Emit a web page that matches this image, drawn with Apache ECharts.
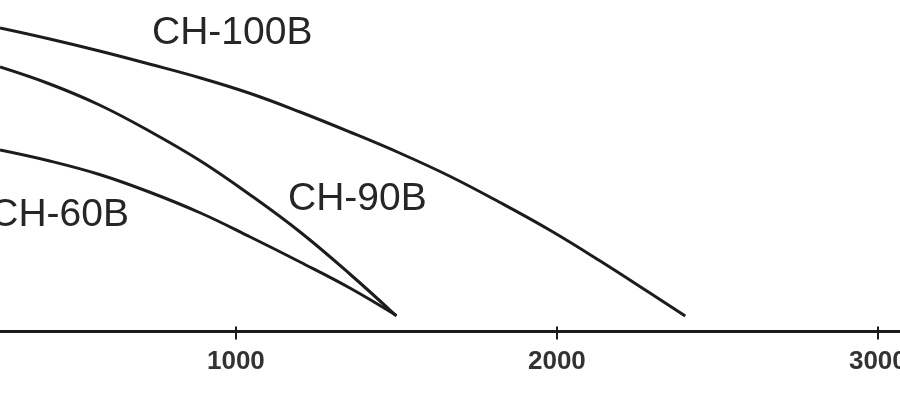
<!DOCTYPE html>
<html>
<head>
<meta charset="utf-8">
<script src="https://cdn.jsdelivr.net/npm/echarts@6/dist/echarts.min.js"></script>
<style>
html,body{margin:0;padding:0;background:#fff;}
#chart{width:900px;height:394px;}
</style>
</head>
<body>
<div id="chart"></div>
<script>
// Flow values (x) and head values (y)
var tickValues = [1000, 2000, 3000];
var seriesNames = ['CH-100B', 'CH-90B', 'CH-60B'];

var ch100bX = [265, 420, 575, 730, 890, 1045, 1200, 1355, 1510, 1665, 1820, 1980, 2135, 2290, 2400];
var ch100bY = [30.35, 29.25, 28.05, 26.75, 25.35, 23.8, 21.95, 19.95, 17.85, 15.55, 12.95, 10.1, 7.05, 3.85, 1.55];

var ch90bX = [265, 420, 575, 730, 890, 1045, 1200, 1355, 1500];
var ch90bY = [26.45, 24.75, 22.65, 20.05, 17.05, 13.65, 9.95, 5.75, 1.55];

var ch60bX = [265, 420, 575, 730, 890, 1045, 1200, 1355, 1500];
var ch60bY = [18.15, 17.05, 15.7, 13.95, 11.85, 9.45, 6.95, 4.35, 1.6];

function pairs(xs, ys) {
  return xs.map(function (x, i) { return [x, ys[i]]; });
}

var lineColor = '#1c1c1c';
var textColor = '#262626';

var chart = echarts.init(document.getElementById('chart'), null, {renderer: 'canvas'});

function lineSeries(name, xs, ys) {
  return {
    name: name,
    type: 'line',
    data: pairs(xs, ys),
    smooth: 0.4,
    showSymbol: false,
    symbol: 'none',
    clip: true,
    lineStyle: {color: lineColor, width: 3},
    emphasis: {disabled: true}
  };
}

var option = {
  animation: false,
  backgroundColor: '#ffffff',
  grid: {left: 0, right: 0, top: 0, bottom: 62.5, containLabel: false, outerBoundsMode: 'none'},
  xAxis: [
    {
      type: 'value',
      min: 265,
      max: 3069,
      position: 'bottom',
      splitLine: {show: false},
      axisLine: {show: true, onZero: false, lineStyle: {color: lineColor, width: 3}},
      axisTick: {show: true, inside: false, length: 8, customValues: tickValues,
                 lineStyle: {color: lineColor, width: 2}},
      axisLabel: {show: true, customValues: tickValues, margin: 17,
                  formatter: function (v) { return String(v); },
                  color: '#333', fontSize: 26, fontWeight: 'bold',
                  fontFamily: 'Liberation Sans, Arial, sans-serif'}
    },
    {
      type: 'value',
      min: 265,
      max: 3069,
      position: 'bottom',
      splitLine: {show: false},
      axisLine: {show: false, onZero: false},
      axisTick: {show: true, inside: true, length: 5, customValues: tickValues,
                 lineStyle: {color: lineColor, width: 2}},
      axisLabel: {show: false}
    }
  ],
  yAxis: {
    type: 'value',
    min: 0,
    max: 33.15,
    show: false,
    splitLine: {show: false}
  },
  series: [
    lineSeries(seriesNames[0], ch100bX, ch100bY),
    lineSeries(seriesNames[1], ch90bX, ch90bY),
    lineSeries(seriesNames[2], ch60bX, ch60bY)
  ],
  graphic: [
    {type: 'text', x: 152, y: 33.5, silent: true,
     style: {text: seriesNames[0], fill: textColor, font: '39px "Liberation Sans", Arial, sans-serif',
             align: 'left', verticalAlign: 'middle'}},
    {type: 'text', x: 288, y: 199, silent: true,
     style: {text: seriesNames[1], fill: textColor, font: '39px "Liberation Sans", Arial, sans-serif',
             align: 'left', verticalAlign: 'middle'}},
    {type: 'text', x: 129, y: 215, silent: true,
     style: {text: seriesNames[2], fill: textColor, font: '39px "Liberation Sans", Arial, sans-serif',
             align: 'right', verticalAlign: 'middle'}}
  ]
};

chart.setOption(option);
</script>
</body>
</html>
